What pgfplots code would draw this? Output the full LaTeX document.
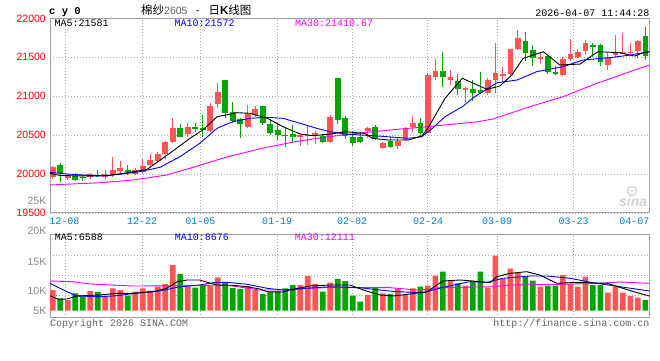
\documentclass[border=0pt]{standalone}
\usepackage{pgfplots}
\pgfplotsset{compat=1.18}
\usepackage{pgfplotstable}
\usepackage{fontspec}
\setmainfont{Liberation Sans}
\newfontfamily\mono{Liberation Mono}
\newfontfamily\cjk{Noto Sans CJK SC}
\definecolor{cred}{RGB}{255,85,85}
\definecolor{cgreen}{RGB}{0,165,0}
\definecolor{labelred}{RGB}{255,0,0}
\definecolor{dateblue}{RGB}{0,128,210}
\definecolor{labgray}{RGB}{140,140,140}
\definecolor{framegray}{RGB}{160,160,160}
\definecolor{gridgray}{RGB}{170,170,170}
\definecolor{copygray}{RGB}{100,100,100}
\definecolor{mablue}{RGB}{0,0,255}
\definecolor{mamag}{RGB}{255,0,255}

% price candles: i open high low close
\pgfplotstableread{
i o h l c
0 19965 20107 19932 20086
2 19945 19996 19923 19987
5 19958 20013 19940 19996
7 19965 20051 19936 19996
8 19987 20214 19965 20051
9 20039 20171 19996 20073
11 20000 20073 19987 20051
12 20030 20189 20009 20103
13 20116 20257 20107 20180
14 20167 20279 20150 20257
15 20257 20428 20189 20415
16 20407 20723 20394 20587
18 20514 20659 20479 20608
21 20556 20908 20544 20874
22 20903 21173 20844 21054
26 20608 20887 20587 20767
27 20762 20874 20737 20835
33 20488 20514 20360 20501
34 20488 20617 20373 20505
35 20501 20556 20385 20522
37 20415 20758 20394 20728
42 20553 20600 20459 20587
44 20338 20415 20317 20394
46 20360 20479 20321 20424
47 20437 20600 20428 20587
48 20600 20745 20544 20651
50 20531 21294 20522 21272
51 21250 21474 21208 21324
53 21208 21336 21144 21242
55 21079 21114 20929 21101
58 21037 21230 21015 21208
59 21208 21687 21037 21294
60 21272 21379 21186 21285
61 21281 21602 21272 21602
62 21606 21850 21593 21744
65 21474 21551 21409 21500
68 21272 21508 21263 21478
69 21474 21730 21452 21542
70 21500 21606 21487 21572
71 21581 21722 21529 21679
74 21401 21551 21336 21508
75 21529 21786 21508 21551
76 21551 21808 21538 21572
77 21555 21679 21538 21572
78 21581 21722 21487 21713
}\upT

\pgfplotstableread{
i o h l c
1 20116 20141 19901 20017
3 19978 20009 19910 19923
4 19965 19991 19914 19949
6 19991 20051 19958 19974
10 20051 20116 19987 20021
17 20587 20642 20471 20479
19 20604 20659 20536 20578
20 20595 20758 20479 20565
23 21208 21208 20716 20788
24 20793 20921 20651 20685
25 20703 20723 20459 20639
28 20874 20874 20630 20659
29 20642 20703 20501 20531
30 20565 20651 20437 20501
31 20501 20587 20351 20492
32 20514 20630 20402 20479
36 20488 20514 20402 20415
38 21230 21230 20642 20694
39 20716 20745 20446 20492
40 20471 20522 20360 20394
41 20479 20544 20394 20407
43 20608 20630 20437 20459
45 20424 20479 20330 20351
49 20651 20716 20488 20522
52 21324 21572 21122 21250
54 21199 21285 21015 21088
56 21092 21208 20938 21045
57 21079 21315 21028 21037
63 21709 21828 21452 21559
64 21593 21658 21388 21487
66 21520 21520 21285 21307
67 21315 21392 21272 21281
72 21658 21679 21508 21636
73 21658 21667 21392 21435
79 21773 21893 21465 21520
}\downT

\pgfplotstableread{
i v
0 9150
2 4730
5 8710
7 6190
8 9900
9 9150
11 8400
12 9900
13 8840
14 10600
15 11800
16 20200
18 11360
21 10900
22 14760
26 10900
27 9150
33 11360
34 15340
35 11800
37 12380
42 6940
44 7690
46 9900
47 6940
48 9900
50 11050
51 15470
53 13570
55 11050
58 10170
59 24310
60 14010
61 18560
62 16800
65 10600
68 15780
69 11800
70 10600
71 15030
74 7960
75 10600
76 7960
77 6500
78 5750
}\volUp

\pgfplotstableread{
i v
1 5480
3 7690
4 6190
6 8270
10 6630
17 16200
19 10170
20 11050
23 12550
24 10030
25 9590
28 7380
29 8400
30 8400
31 9900
32 11360
36 8400
38 14010
39 13130
40 6630
41 3980
43 10170
45 7380
49 10600
52 17240
54 12110
56 12820
57 17240
63 15340
64 13260
66 11050
67 11050
72 11360
73 11360
79 4730
}\volDown

\pgfplotsset{sina/.style={
  scale only axis, width=599.5pt, xmin=-0.36, xmax=79.55,
  axis line style={draw=framegray, line width=1pt},
  major tick length=0pt,
  grid=major,
  grid style={draw=gridgray, line width=0.8pt, dash pattern=on 1pt off 2pt},
  xtick={1.64,11.9,19.7,29.9,40.0,50.0,59.3,69.4},
  xticklabels={},
  scaled y ticks=false,
}}

\begin{document}
\begin{tikzpicture}
\fill[white] (0pt,0pt) rectangle (660pt,360pt);
\path[use as bounding box] (0pt,0pt) rectangle (660pt,360pt);

% ---------- price panel ----------
\begin{axis}[sina, at={(50pt,147.1pt)}, anchor=south west, height=194.5pt,
  ymin=19500, ymax=22000,
  ytick={19500,20000,20500,21000,21500,22000},
  yticklabels={19500,20000,20500,21000,21500,22000},
  yticklabel style={text=labelred, font=\fontsize{10.5}{12}\selectfont, inner sep=0pt, xshift=-4pt},
]
\addplot[draw=none, mark=none, forget plot, error bars/.cd, y dir=both, y explicit, error mark=none,
  error bar style={draw=cred, line width=1pt}]
  table[x=i, y expr={(\thisrow{h}+\thisrow{l})/2}, y error expr={(\thisrow{h}-\thisrow{l})/2}] {\upT};
\addplot[draw=none, mark=none, forget plot, error bars/.cd, y dir=both, y explicit, error mark=none,
  error bar style={draw=cred, line width=5.6pt}]
  table[x=i, y expr={(\thisrow{o}+\thisrow{c})/2}, y error expr={max(abs(\thisrow{c}-\thisrow{o})/2,7)}] {\upT};
\addplot[draw=none, mark=none, forget plot, error bars/.cd, y dir=both, y explicit, error mark=none,
  error bar style={draw=cgreen, line width=1pt}]
  table[x=i, y expr={(\thisrow{h}+\thisrow{l})/2}, y error expr={(\thisrow{h}-\thisrow{l})/2}] {\downT};
\addplot[draw=none, mark=none, forget plot, error bars/.cd, y dir=both, y explicit, error mark=none,
  error bar style={draw=cgreen, line width=5.6pt}]
  table[x=i, y expr={(\thisrow{o}+\thisrow{c})/2}, y error expr={max(abs(\thisrow{c}-\thisrow{o})/2,7)}] {\downT};
% MA30
\addplot[mamag, line width=0.9pt] coordinates {
(-0.36,19859) (6.3,19888) (10.7,19923) (15.2,19987) (18.97,20094) (23.4,20223)
(27.9,20330) (32.3,20415) (36.7,20479) (41.4,20531) (45.9,20574) (49.9,20608)
(52.3,20630) (56.7,20672) (58.7,20707) (63.6,20865) (68.0,20993) (72.5,21165)
(76.95,21315) (79.55,21401)};
% MA10
\addplot[mablue, line width=0.9pt] coordinates {
(-0.36,20021) (1.9,20000) (6.3,19974) (8.96,19996) (11.6,20030) (14.3,20086)
(16.97,20223) (19.6,20394) (21.9,20587) (24.0,20672) (26.3,20716) (28.6,20728)
(30.7,20716) (33.0,20651) (35.2,20587) (36.96,20544) (38.96,20514) (43.4,20488)
(47.4,20459) (49.2,20479) (50.6,20587) (52.3,20736) (54.6,20865) (56.2,20990)
(59.2,21173) (61.9,21208) (64.5,21315) (68.0,21379) (70.7,21465) (74.7,21500)
(76.95,21529) (79.55,21572)};
% MA5
\addplot[black, line width=0.9pt] coordinates {
(-0.36,20009) (1.0,19981) (3.6,19975) (7.2,19978) (10.3,20021) (12.6,20060)
(15.6,20266) (18.3,20459) (20.0,20565) (21.9,20736) (24.6,20788) (26.3,20780)
(28.6,20716) (30.7,20608) (33.0,20514) (34.7,20492) (37.0,20514) (39.0,20544)
(41.6,20522) (42.6,20459) (44.7,20437) (47.4,20437) (49.2,20488) (50.0,20587)
(52.3,20973) (54.6,21230) (57.9,21088) (59.6,21131) (61.2,21272) (62.7,21486)
(65.4,21572) (66.5,21486) (67.6,21401) (70.3,21413) (72.0,21529) (72.7,21572)
(75.6,21559) (76.9,21529) (77.6,21516) (78.7,21559) (79.55,21572)};
\end{axis}

% ---------- volume panel ----------
\begin{axis}[sina, at={(50pt,42.3pt)}, anchor=south west, height=83.4pt,
  ymin=-3094, ymax=33769,
  ytick={6630,15780,24620}, yticklabels={},
]
\addplot[ybar, bar width=5.6pt, bar shift=0pt, fill=cred, draw=none] table[x=i, y=v] {\volUp};
\addplot[ybar, bar width=5.6pt, bar shift=0pt, fill=cgreen, draw=none] table[x=i, y=v] {\volDown};
% MA30
\addplot[mamag, line width=0.9pt] coordinates {
(-0.36,13130) (2.7,12820) (5.0,11800) (10.7,10920) (19.6,11050) (21.9,11360)
(24.0,10920) (27.6,9150) (31.6,9150) (33.9,9900) (36.97,10250) (41.4,10170)
(45.0,10170) (48.6,9150) (50.3,9460) (51.6,10170) (58.7,10600) (60.96,11360)
(68.0,11670) (72.9,12110) (75.6,12690) (79.55,12110)};
% MA10
\addplot[mablue, line width=0.9pt] coordinates {
(-0.36,12110) (1.9,8400) (3.2,6500) (6.3,6190) (8.6,6630) (11.6,7960) (14.3,8710)
(16.97,10600) (19.6,11360) (21.4,12380) (23.2,12550) (25.9,11670) (28.6,9900)
(30.7,9150) (33.9,9900) (36.97,10600) (40.95,10170) (43.6,9150) (45.9,8400)
(49.4,7960) (52.0,10340) (55.6,12820) (57.9,12550) (60.0,14320) (63.6,15340)
(65.9,15340) (68.96,14320) (72.0,12380) (75.6,10600) (79.55,8710)};
% MA5
\addplot[black, line width=0.9pt] coordinates {
(-0.36,6630) (0.7,5040) (1.9,5170) (3.2,6500) (6.3,6940) (8.6,7690) (10.7,7690)
(13.4,8400) (15.2,9900) (16.6,12820) (17.9,13570) (19.6,13570) (20.3,12820)
(21.9,11360) (24.0,11230) (25.9,10600) (27.6,9590) (28.6,8400) (30.7,8270)
(31.6,9150) (34.3,10920) (37.0,11360) (39.6,11360) (41.4,9150) (43.6,6940)
(45.4,6500) (47.6,7380) (49.9,8400) (52.0,13130) (54.3,13570) (56.0,13130)
(58.3,12380) (59.2,15030) (60.96,16530) (63.2,17240) (64.9,15780) (67.2,12110)
(68.96,12380) (71.2,12380) (73.9,12110) (76.0,9900) (77.9,7960) (79.55,6500)};
\end{axis}

% ---------- texts ----------
\node[anchor=base west, inner sep=0pt, font=\mono\bfseries\fontsize{10.5}{12}\selectfont] at (49pt,345.7pt) {c y 0};
\node[anchor=base west, inner sep=0pt] at (141pt,346pt) {\cjk\fontsize{11.5}{12}\selectfont 棉纱{\rmfamily\fontsize{10.5}{12}\selectfont\color{copygray}2605}\hspace{8pt}-\hspace{9pt}日{\rmfamily\bfseries K}线图};
\node[anchor=base east, inner sep=0pt, font=\mono\fontsize{10}{12}\selectfont] at (649.5pt,344pt) {2026-04-07 11:44:28};

\node[anchor=base west, inner sep=0pt, font=\mono\fontsize{10}{12}\selectfont] at (54.3pt,333.3pt) {MA5:21581};
\node[anchor=base west, inner sep=0pt, font=\mono\fontsize{10}{12}\selectfont, text=mablue] at (174.3pt,333.3pt) {MA10:21572};
\node[anchor=base west, inner sep=0pt, font=\mono\fontsize{10}{12}\selectfont, text=mamag] at (295pt,333.3pt) {MA30:21410.67};

\node[anchor=base west, inner sep=0pt, font=\mono\fontsize{10}{12}\selectfont] at (54.7pt,119.3pt) {MA5:6588};
\node[anchor=base west, inner sep=0pt, font=\mono\fontsize{10}{12}\selectfont, text=mablue] at (174.7pt,119.3pt) {MA10:8676};
\node[anchor=base west, inner sep=0pt, font=\mono\fontsize{10}{12}\selectfont, text=mamag] at (294.7pt,119.3pt) {MA30:12111};

\foreach \xx/\lab in {64.5/12-08, 142/12-22, 200.3/01-05, 277/01-19, 352/02-02, 428/02-24, 497/03-09, 573.7/03-23}{
  \node[anchor=base, inner sep=0pt, font=\mono\fontsize{10}{12}\selectfont, text=dateblue] at (\xx pt,135.7pt) {\lab};
}
\node[anchor=base east, inner sep=0pt, font=\mono\fontsize{10}{12}\selectfont, text=dateblue] at (649.5pt,135.7pt) {04-07};

\node[anchor=base east, inner sep=0pt, text=labgray] at (46.5pt,156pt) {\fontsize{10.5}{12}\selectfont 25K};
\node[anchor=east, inner sep=0pt, font=\fontsize{10.5}{12}\selectfont, text=labgray] at (46.5pt,129pt) {20K};
\node[anchor=east, inner sep=0pt, font=\fontsize{10.5}{12}\selectfont, text=labgray] at (46.5pt,98.3pt) {15K};
\node[anchor=east, inner sep=0pt, font=\fontsize{10.5}{12}\selectfont, text=labgray] at (46.5pt,69pt) {10K};
\node[anchor=east, inner sep=0pt, font=\fontsize{10.5}{12}\selectfont, text=labgray] at (46.5pt,49.3pt) {5K};

\node[anchor=base west, inner sep=0pt, font=\mono\fontsize{10}{12}\selectfont, text=copygray] at (50pt,33.3pt) {Copyright 2026 SINA.COM};
\node[anchor=base east, inner sep=0pt, font=\mono\fontsize{10}{12}\selectfont, text=copygray] at (649.5pt,33.3pt) {http://finance.sina.com.cn};

% sina watermark
\draw[gray!30, line width=1.5pt] (632pt,169pt) circle (4.5pt);
\fill[gray!30] (632pt,169pt) circle (1.6pt);
\node[anchor=base west, inner sep=0pt, font=\bfseries\itshape\fontsize{14}{14}\selectfont, text=gray!35] at (619pt,154pt) {sina};
\end{tikzpicture}
\end{document}
